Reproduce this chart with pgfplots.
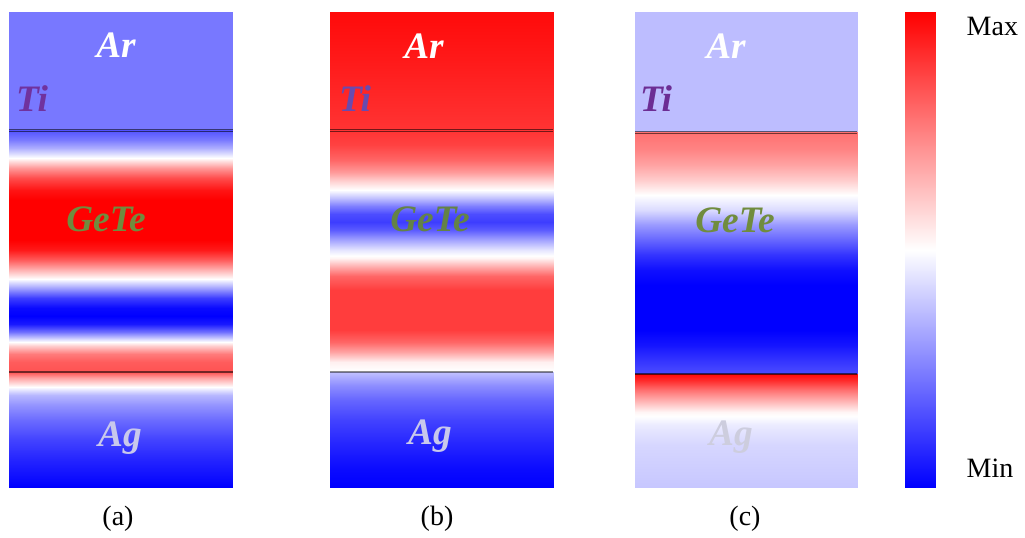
\documentclass[border=0pt]{standalone}
\usepackage{pgfplots}
\pgfplotsset{compat=1.18}
\usepackage{fontspec}
\setmainfont{Liberation Serif}
\definecolor{tiA}{RGB}{112,50,158}
\definecolor{tiB}{RGB}{105,75,175}
\definecolor{tiC}{RGB}{108,45,148}
\definecolor{geA}{RGB}{112,140,62}
\definecolor{geB}{RGB}{100,130,70}
\definecolor{agA}{RGB}{200,200,236}
\definecolor{agC}{RGB}{205,205,222}
\pgfplotsset{colormap={bwr}{rgb255=(0,0,255) rgb255=(255,255,255) rgb255=(255,0,0)}}
\begin{document}
\begin{tikzpicture}
\begin{axis}[
  width=768.75pt, height=403.5pt, scale only axis,
  xmin=0, xmax=1025, ymin=0, ymax=538, y dir=reverse,
  hide axis, clip=false,
  colormap name=bwr, point meta min=0, point meta max=1,
]
\path (rel axis cs:0,0) rectangle (rel axis cs:1,1);
% ---------- panel (a)
\addplot[surf, shader=interp, mesh/cols=2, point meta=\thisrow{v}] table {
x y v
9 12.5 0.235
233 12.5 0.235
9 129.5 0.235
233 129.5 0.235
9 130 0.16
233 130 0.16
9 140 0.24
233 140 0.24
9 148 0.34
233 148 0.34
9 158 0.50
233 158 0.50
9 168 0.70
233 168 0.70
9 178 0.85
233 178 0.85
9 190 0.96
233 190 0.96
9 200 1.0
233 200 1.0
9 240 1.0
233 240 1.0
9 250 0.95
233 250 0.95
9 260 0.82
233 260 0.82
9 270 0.65
233 270 0.65
9 279 0.50
233 279 0.50
9 288 0.32
233 288 0.32
9 298 0.12
233 298 0.12
9 308 0.02
233 308 0.02
9 316 0.0
233 316 0.0
9 324 0.05
233 324 0.05
9 332 0.22
233 332 0.22
9 340 0.45
233 340 0.45
9 346 0.60
233 346 0.60
9 354 0.76
233 354 0.76
9 362 0.82
233 362 0.82
9 372 0.84
233 372 0.84
9 378 0.68
233 378 0.68
9 387 0.50
233 387 0.50
9 395 0.36
233 395 0.36
9 405 0.29
233 405 0.29
9 420 0.21
233 420 0.21
9 440 0.13
233 440 0.13
9 460 0.07
233 460 0.07
9 480 0.02
233 480 0.02
9 487 0.0
233 487 0.0
};
% ---------- panel (b)
\addplot[surf, shader=interp, mesh/cols=2, point meta=\thisrow{v}] table {
x y v
330 12.5 0.98
553 12.5 0.98
330 60 0.95
553 60 0.95
330 129.5 0.90
553 129.5 0.90
330 130 0.90
553 130 0.90
330 145 0.87
553 145 0.87
330 160 0.80
553 160 0.80
330 172 0.70
553 172 0.70
330 182 0.58
553 182 0.58
330 190 0.50
553 190 0.50
330 198 0.38
553 198 0.38
330 206 0.25
553 206 0.25
330 214 0.15
553 214 0.15
330 222 0.12
553 222 0.12
330 230 0.18
553 230 0.18
330 240 0.32
553 240 0.32
330 250 0.45
553 250 0.45
330 258 0.52
553 258 0.52
330 266 0.65
553 266 0.65
330 276 0.80
553 276 0.80
330 290 0.88
553 290 0.88
330 330 0.88
553 330 0.88
330 342 0.80
553 342 0.80
330 352 0.68
553 352 0.68
330 362 0.53
553 362 0.53
330 371.5 0.50
553 371.5 0.50
330 372 0.38
553 372 0.38
330 385 0.28
553 385 0.28
330 400 0.20
553 400 0.20
330 420 0.13
553 420 0.13
330 445 0.07
553 445 0.07
330 470 0.02
553 470 0.02
330 487 0.0
553 487 0.0
};
% ---------- panel (c)
\addplot[surf, shader=interp, mesh/cols=2, point meta=\thisrow{v}] table {
x y v
635 12.5 0.37
857 12.5 0.37
635 131.5 0.37
857 131.5 0.37
635 132 0.78
857 132 0.78
635 150 0.74
857 150 0.74
635 165 0.68
857 165 0.68
635 180 0.60
857 180 0.60
635 195 0.50
857 195 0.50
635 210 0.43
857 210 0.43
635 225 0.30
857 225 0.30
635 240 0.20
857 240 0.20
635 255 0.10
857 255 0.10
635 270 0.03
857 270 0.03
635 285 0.0
857 285 0.0
635 330 0.0
857 330 0.0
635 345 0.04
857 345 0.04
635 360 0.10
857 360 0.10
635 373.5 0.15
857 373.5 0.15
635 374 0.98
857 374 0.98
635 380 0.92
857 380 0.92
635 390 0.78
857 390 0.78
635 400 0.66
857 400 0.66
635 412 0.52
857 412 0.52
635 425 0.46
857 425 0.46
635 445 0.42
857 445 0.42
635 487 0.39
857 487 0.39
};
% ---------- colour bar
\addplot[surf, shader=interp, mesh/cols=2, point meta=\thisrow{v}] table {
x y v
905 12.5 1.0
935 12.5 1.0
905 131 0.75
935 131 0.75
905 249.75 0.5
935 249.75 0.5
905 368.5 0.25
935 368.5 0.25
905 487 0.0
935 487 0.0
};
% ---------- interface lines
\addplot[black, opacity=0.55, line width=0.7pt] coordinates {(9,129) (233,129)};
\addplot[black, opacity=0.55, line width=0.7pt] coordinates {(9,131.5) (233,131.5)};
\addplot[black, opacity=0.55, line width=0.8pt] coordinates {(9,372) (233,372)};
\addplot[black, opacity=0.55, line width=0.7pt] coordinates {(330,129) (553,129)};
\addplot[black, opacity=0.55, line width=0.7pt] coordinates {(330,131.5) (553,131.5)};
\addplot[black, opacity=0.45, line width=0.8pt] coordinates {(330,372) (553,372)};
\addplot[black, opacity=0.55, line width=0.7pt] coordinates {(635,131) (857,131)};
\addplot[black, opacity=0.55, line width=0.7pt] coordinates {(635,133.5) (857,133.5)};
\addplot[black, opacity=0.6, line width=0.8pt] coordinates {(635,374) (857,374)};
% ---------- layer names
\begin{scope}[font=\fontsize{28}{30}\selectfont\bfseries\itshape]
\node[white] at (axis cs:116,45) {Ar};
\node[tiA] at (axis cs:32,99) {Ti};
\node[geA] at (axis cs:106,219) {GeTe};
\node[agA] at (axis cs:120,438) {Ag};
\node[white] at (axis cs:424,46) {Ar};
\node[tiB] at (axis cs:355,99) {Ti};
\node[geB] at (axis cs:430,219) {GeTe};
\node[agA] at (axis cs:430,436) {Ag};
\node[white] at (axis cs:726,46) {Ar};
\node[tiC] at (axis cs:656,99) {Ti};
\node[geA] at (axis cs:735,220) {GeTe};
\node[agC] at (axis cs:731,437) {Ag};
\end{scope}
% ---------- captions
\begin{scope}[font=\fontsize{21}{24}\selectfont]
\node at (axis cs:118,519) {(a)};
\node at (axis cs:437,519) {(b)};
\node at (axis cs:745,519) {(c)};
\node[anchor=west] at (axis cs:962,26) {Max};
\node[anchor=west] at (axis cs:962,468) {Min};
\end{scope}
\end{axis}
\end{tikzpicture}
\end{document}
